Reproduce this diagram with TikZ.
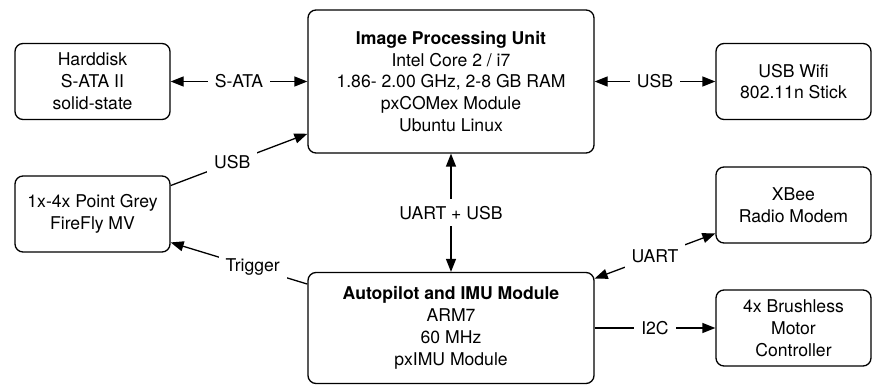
\documentclass[tikz,border=0pt]{standalone}
\usepackage{fontspec}
\setmainfont{TeX Gyre Heros}
\usetikzlibrary{arrows.meta,positioning,calc}

\begin{document}
\begin{tikzpicture}[
    every node/.style={font=\fontsize{8.8}{10.9}\selectfont},
    unit/.style={rectangle, rounded corners=4pt, draw, line width=0.65pt,
        minimum width=77.5pt, minimum height=38pt, align=center, inner sep=2pt},
    mainunit/.style={unit, minimum width=143pt},
    link/.style={line width=0.65pt, -{Triangle[length=6.5pt,width=5pt]}},
    dlink/.style={line width=0.65pt, {Triangle[length=6.5pt,width=5pt]}-{Triangle[length=6.5pt,width=5pt]}},
    bus/.style={fill=white, inner sep=3.5pt},
    x=0.5pt, y=0.5pt,
    ]
    \useasboundingbox (0,0) rectangle (873,385);
    % Main units
    \node[mainunit, minimum height=71.5pt] (ipu) at (451,303.5)
      {\textbf{Image Processing Unit}\\Intel Core 2 / i7\\1.86- 2.00 GHz, 2-8 GB RAM\\pxCOMex Module\\Ubuntu Linux};
    \node[mainunit, minimum height=55.5pt] (ap) at (451,57)
      {\textbf{Autopilot and IMU Module}\\ARM7\\60 MHz\\pxIMU Module};
    % Left side
    \node[unit] (hdd) at (92.5,303.5) {Harddisk\\S-ATA II\\solid-state};
    \node[unit] (cam) at (92.5,171) {1x-4x Point Grey\\FireFly MV};
    % Right side
    \node[unit] (wifi) at (793.5,303.5) {USB Wifi\\802.11n Stick};
    \node[unit] (xbee) at (793.5,180) {XBee\\Radio Modem};
    \node[unit] (esc)  at (793.5,57) {4x Brushless\\Motor\\Controller};
    % Links
    \draw[dlink] (hdd) -- node[bus] {S-ATA} (ipu.west |- hdd);
    \draw[dlink] (ipu.east |- wifi) -- node[bus] {USB} (wifi);
    \draw[link] (cam.20) -- node[bus, pos=0.45] {USB} (ipu.200);
    \draw[link] (ap.163) -- node[bus, pos=0.4] {Trigger} (cam.-20);
    \draw[dlink] (ipu) -- node[bus] {UART + USB} (ap);
    \draw[dlink] (ap.19) -- node[bus] {UART} (xbee.200);
    \draw[link] (ap.east |- esc) -- node[bus] {I2C} (esc);
\end{tikzpicture}
\end{document}
